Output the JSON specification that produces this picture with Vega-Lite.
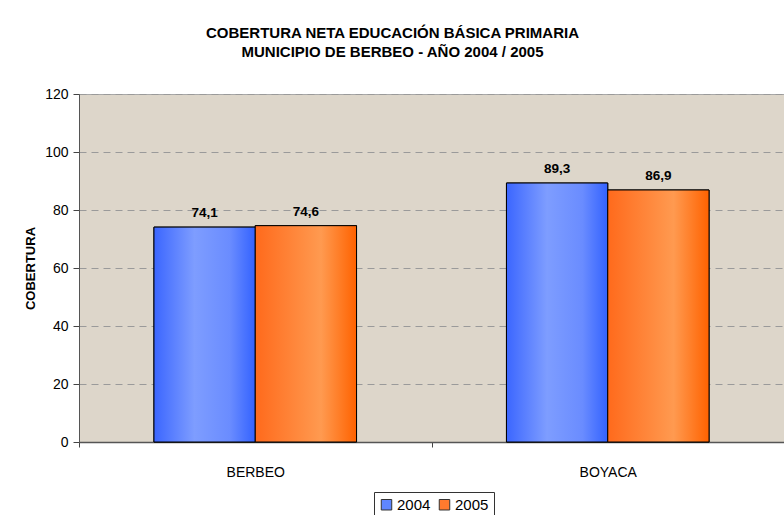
{
  "$schema": "https://vega.github.io/schema/vega-lite/v6.json",
  "width": 705,
  "height": 348,
  "autosize": {"type": "none"},
  "padding": {"left": 79, "top": 94, "right": 0, "bottom": 73},
  "background": "#ffffff",
  "title": {
    "text": ["COBERTURA NETA EDUCACIÓN BÁSICA PRIMARIA", "MUNICIPIO DE BERBEO - AÑO 2004 / 2005"],
    "font": "Liberation Sans",
    "fontSize": 15,
    "fontWeight": "bold",
    "color": "#000000",
    "anchor": "middle",
    "dx": -39,
    "offset": 27,
    "lineHeight": 19
  },
  "data": {
    "values": [
      {"lugar": "BERBEO", "anio": "2004", "cobertura": 74.1},
      {"lugar": "BERBEO", "anio": "2005", "cobertura": 74.6},
      {"lugar": "BOYACA", "anio": "2004", "cobertura": 89.3},
      {"lugar": "BOYACA", "anio": "2005", "cobertura": 86.9}
    ]
  },
  "encoding": {
    "x": {
      "field": "lugar",
      "type": "nominal",
      "scale": {"paddingInner": 0, "paddingOuter": 0},
      "axis": {
        "title": null,
        "labelAngle": 0,
        "labelFont": "Liberation Sans",
        "labelFontSize": 14,
        "labelColor": "#000000",
        "labelPadding": 18,
        "tickBand": "extent",
        "tickSize": 5,
        "tickColor": "#444444",
        "domainColor": "#555555",
        "domainWidth": 1.5,
        "grid": false
      }
    },
    "xOffset": {
      "field": "anio",
      "type": "nominal",
      "scale": {"paddingInner": 0, "paddingOuter": 0.74}
    },
    "y": {
      "field": "cobertura",
      "type": "quantitative",
      "scale": {"domain": [0, 120], "nice": false},
      "axis": {
        "title": "COBERTURA",
        "titleFont": "Liberation Sans",
        "titleFontSize": 13,
        "titleFontWeight": "bold",
        "titleColor": "#000000",
        "titlePadding": 7,
        "values": [0, 20, 40, 60, 80, 100, 120],
        "labelFont": "Liberation Sans",
        "labelFontSize": 14,
        "labelColor": "#000000",
        "labelPadding": 5,
        "tickSize": 6,
        "tickColor": "#444444",
        "domainColor": "#555555",
        "grid": true,
        "gridColor": "#9a9a9a",
        "gridDash": [7, 5],
        "gridWidth": 1
      }
    }
  },
  "layer": [
    {
      "mark": {"type": "bar", "stroke": "#000000", "strokeWidth": 1},
      "encoding": {
        "color": {
          "field": "anio",
          "type": "nominal",
          "scale": {"domain": ["2004", "2005"], "range": ["#5f86ff", "#ff7a2e"]},
          "legend": {
            "title": null,
            "orient": "none",
            "legendX": 295,
            "legendY": 398,
            "direction": "horizontal",
            "symbolType": "square",
            "symbolSize": 110,
            "symbolStrokeColor": "#333333",
            "symbolStrokeWidth": 1,
            "symbolOpacity": 1,
            "labelFont": "Liberation Sans",
            "labelFontSize": 15,
            "labelColor": "#000000",
            "labelOffset": 3,
            "columnPadding": 6,
            "strokeColor": "#333333",
            "fillColor": "#ffffff",
            "padding": 5
          }
        }
      }
    },
    {
      "transform": [{"filter": "datum.anio == '2004'"}],
      "mark": {
        "type": "bar",
        "stroke": "#000000",
        "strokeWidth": 1,
        "fill": {
          "gradient": "linear",
          "x1": 0, "y1": 0, "x2": 1, "y2": 0,
          "stops": [
            {"offset": 0, "color": "#3b66ff"},
            {"offset": 0.4, "color": "#7e9dff"},
            {"offset": 0.75, "color": "#6a8cff"},
            {"offset": 1, "color": "#3362ff"}
          ]
        }
      }
    },
    {
      "transform": [{"filter": "datum.anio == '2005'"}],
      "mark": {
        "type": "bar",
        "stroke": "#000000",
        "strokeWidth": 1,
        "fill": {
          "gradient": "linear",
          "x1": 0, "y1": 0, "x2": 1, "y2": 0,
          "stops": [
            {"offset": 0, "color": "#ff6a1c"},
            {"offset": 0.65, "color": "#ff9a50"},
            {"offset": 1, "color": "#ff6200"}
          ]
        }
      }
    },
    {
      "mark": {
        "type": "text",
        "baseline": "bottom",
        "dy": -7,
        "font": "Liberation Sans",
        "fontSize": 13.5,
        "fontWeight": "bold",
        "color": "#000000"
      },
      "encoding": {
        "text": {"field": "cobertura", "type": "quantitative", "format": ".1f"}
      }
    }
  ],
  "config": {
    "locale": {
      "number": {"decimal": ",", "thousands": ".", "grouping": [3], "currency": ["$", ""]}
    },
    "view": {"fill": "#ddd6ca", "stroke": "#a8a8a8", "strokeWidth": 1}
  }
}
